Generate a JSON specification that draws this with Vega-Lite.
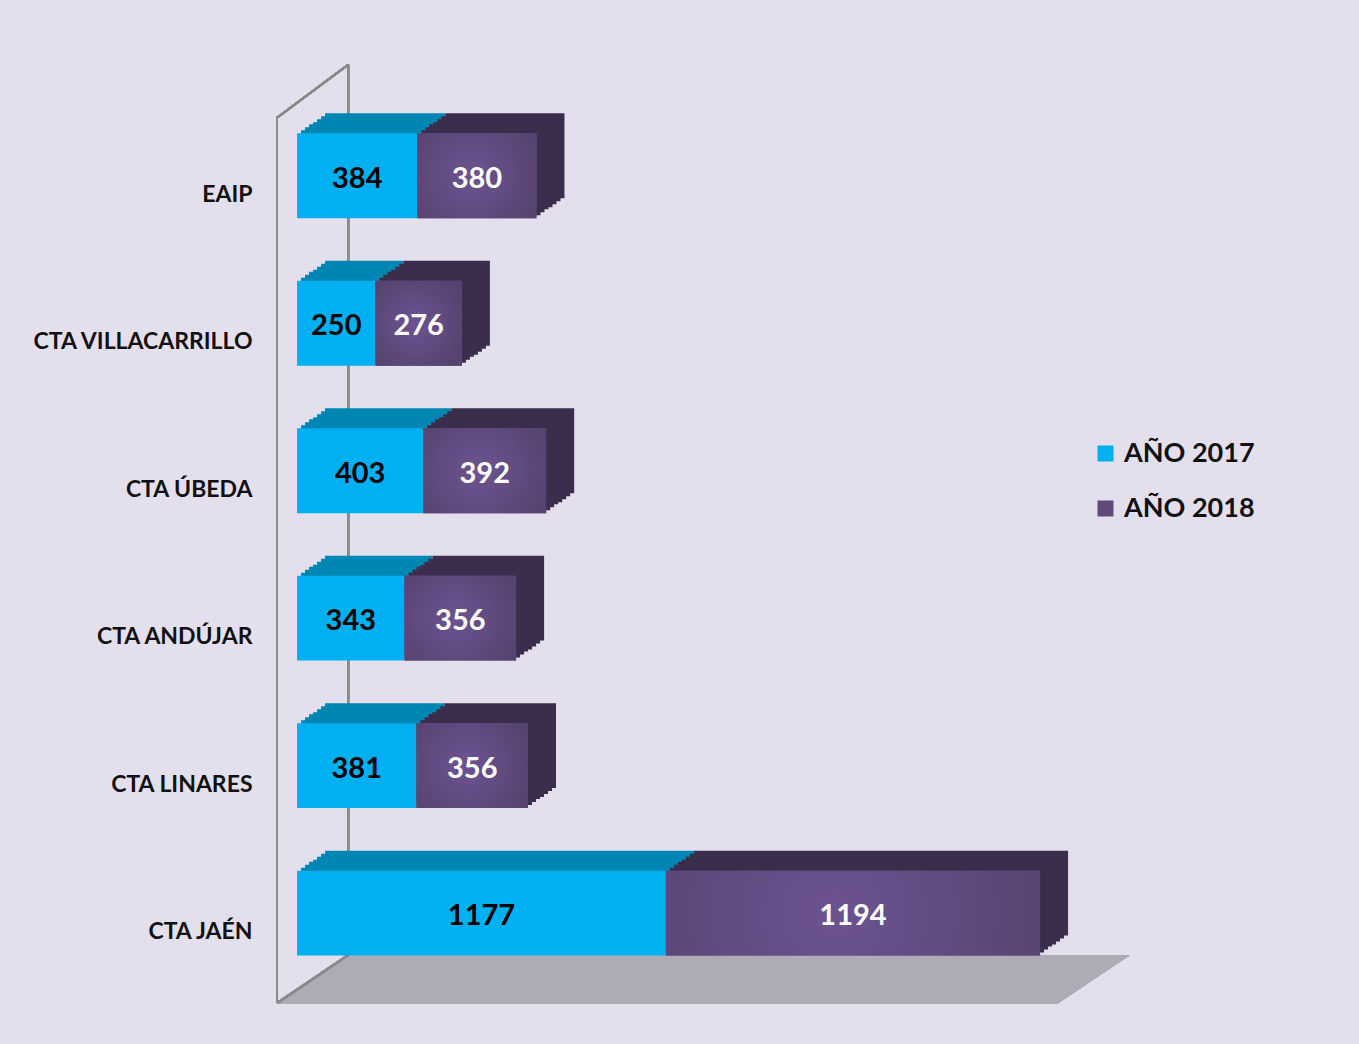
{
  "$schema": "https://vega.github.io/schema/vega-lite/v6.json",
  "autosize": "none",
  "padding": {"left": 277, "top": 65, "right": 229, "bottom": 41},
  "width": 853,
  "height": 938,
  "background": "#E4DFEC",
  "config": {"view": {"stroke": null}, "font": "Lato"},
  "data": {"values": [
    {"cat": "EAIP", "year": "AÑO 2017", "value": 384},
    {"cat": "EAIP", "year": "AÑO 2018", "value": 380},
    {"cat": "CTA VILLACARRILLO", "year": "AÑO 2017", "value": 250},
    {"cat": "CTA VILLACARRILLO", "year": "AÑO 2018", "value": 276},
    {"cat": "CTA ÚBEDA", "year": "AÑO 2017", "value": 403},
    {"cat": "CTA ÚBEDA", "year": "AÑO 2018", "value": 392},
    {"cat": "CTA ANDÚJAR", "year": "AÑO 2017", "value": 343},
    {"cat": "CTA ANDÚJAR", "year": "AÑO 2018", "value": 356},
    {"cat": "CTA LINARES", "year": "AÑO 2017", "value": 381},
    {"cat": "CTA LINARES", "year": "AÑO 2018", "value": 356},
    {"cat": "CTA JAÉN", "year": "AÑO 2017", "value": 1177},
    {"cat": "CTA JAÉN", "year": "AÑO 2018", "value": 1194}
  ]},
  "transform": [
    {"stack": "value", "groupby": ["cat"], "sort": [{"field": "year", "order": "ascending"}], "as": ["x0", "x1"]}
  ],
  "encoding": {
    "y": {
      "field": "cat", "type": "nominal", "title": null,
      "scale": {"domain": ["EAIP", "CTA VILLACARRILLO", "CTA ÚBEDA", "CTA ANDÚJAR", "CTA LINARES", "CTA JAÉN"], "paddingInner": 0.424, "paddingOuter": 0.392, "align": 0.59},
      "axis": {"domain": false, "ticks": false, "labelPadding": 25, "labelOffset": 19, "labelFont": "Lato", "labelFontSize": 23, "labelFontWeight": "bold", "labelColor": "#111111", "labelLimit": 400}
    }
  },
  "layer": [
    {
      "mark": {"type": "rule", "color": "#8A8A8A", "strokeWidth": 2, "yOffset": -111, "y2Offset": 42},
      "encoding": {
        "x": {"datum": 163, "type": "quantitative", "scale": {"domain": [-64, 2658], "nice": false, "zero": false}, "axis": null},
        "y": {"datum": "EAIP", "type": "nominal"},
        "y2": {"datum": "CTA JAÉN"}
      }
    },
    {
      "mark": {"type": "point", "filled": true, "opacity": 1, "color": "#AEABB6", "strokeWidth": 0, "size": 727609, "yOffset": 66,
        "shape": "M -1 0.0563 L 0.8312 0.0563 L 1 -0.0563 L -0.8335 -0.0563 Z"},
      "encoding": {
        "x": {"datum": 1297, "type": "quantitative"},
        "y": {"datum": "CTA JAÉN", "type": "nominal"}
      }
    },
    {
      "mark": {"type": "rule", "color": "#8A8A8A", "strokeWidth": 2, "yOffset": 90, "y2Offset": 42},
      "encoding": {
        "x": {"datum": -64, "type": "quantitative"},
        "x2": {"datum": 163},
        "y": {"datum": "CTA JAÉN", "type": "nominal"},
        "y2": {"datum": "CTA JAÉN"}
      }
    },
    {
      "mark": {"type": "rule", "color": "#8A8A8A", "strokeWidth": 2, "yOffset": -58, "y2Offset": 90},
      "encoding": {
        "x": {"datum": -64, "type": "quantitative"},
        "y": {"datum": "EAIP", "type": "nominal"},
        "y2": {"datum": "CTA JAÉN"}
      }
    },
    {
      "mark": {"type": "rule", "color": "#8A8A8A", "strokeWidth": 2, "yOffset": -58, "y2Offset": -111},
      "encoding": {
        "x": {"datum": -64, "type": "quantitative"},
        "x2": {"datum": 163},
        "y": {"datum": "EAIP", "type": "nominal"},
        "y2": {"datum": "EAIP"}
      }
    },
    {
      "mark": {"type": "bar", "xOffset": 28, "x2Offset": 28, "yOffset": -20, "y2Offset": -20},
      "encoding": {
        "x": {"field": "x0", "type": "quantitative"}, "x2": {"field": "x1"},
        "fill": {"condition": {"test": "datum.year === 'AÑO 2018'", "value": "#3B2D4C"}, "value": "#0086B2"}
      }
    },
    {
      "mark": {"type": "bar", "xOffset": 24, "x2Offset": 24, "yOffset": -17, "y2Offset": -17},
      "encoding": {
        "x": {"field": "x0", "type": "quantitative"}, "x2": {"field": "x1"},
        "fill": {"condition": {"test": "datum.year === 'AÑO 2018'", "value": "#3B2D4C"}, "value": "#0086B2"}
      }
    },
    {
      "mark": {"type": "bar", "xOffset": 20, "x2Offset": 20, "yOffset": -14, "y2Offset": -14},
      "encoding": {
        "x": {"field": "x0", "type": "quantitative"}, "x2": {"field": "x1"},
        "fill": {"condition": {"test": "datum.year === 'AÑO 2018'", "value": "#3B2D4C"}, "value": "#0086B2"}
      }
    },
    {
      "mark": {"type": "bar", "xOffset": 16, "x2Offset": 16, "yOffset": -11, "y2Offset": -11},
      "encoding": {
        "x": {"field": "x0", "type": "quantitative"}, "x2": {"field": "x1"},
        "fill": {"condition": {"test": "datum.year === 'AÑO 2018'", "value": "#3B2D4C"}, "value": "#0086B2"}
      }
    },
    {
      "mark": {"type": "bar", "xOffset": 12, "x2Offset": 12, "yOffset": -9, "y2Offset": -9},
      "encoding": {
        "x": {"field": "x0", "type": "quantitative"}, "x2": {"field": "x1"},
        "fill": {"condition": {"test": "datum.year === 'AÑO 2018'", "value": "#3B2D4C"}, "value": "#0086B2"}
      }
    },
    {
      "mark": {"type": "bar", "xOffset": 8, "x2Offset": 8, "yOffset": -6, "y2Offset": -6},
      "encoding": {
        "x": {"field": "x0", "type": "quantitative"}, "x2": {"field": "x1"},
        "fill": {"condition": {"test": "datum.year === 'AÑO 2018'", "value": "#3B2D4C"}, "value": "#0086B2"}
      }
    },
    {
      "mark": {"type": "bar", "xOffset": 4, "x2Offset": 4, "yOffset": -3, "y2Offset": -3},
      "encoding": {
        "x": {"field": "x0", "type": "quantitative"}, "x2": {"field": "x1"},
        "fill": {"condition": {"test": "datum.year === 'AÑO 2018'", "value": "#3B2D4C"}, "value": "#0086B2"}
      }
    },
    {
      "mark": {"type": "bar"},
      "encoding": {
        "x": {"field": "x0", "type": "quantitative"}, "x2": {"field": "x1"},
        "color": {"field": "year", "type": "nominal", "title": null,
          "scale": {"domain": ["AÑO 2017", "AÑO 2018"], "range": ["#00B0F0", "#604A7B"]},
          "legend": {"orient": "none", "legendX": 815, "legendY": 375, "symbolType": "square", "symbolSize": 256, "symbolStrokeWidth": 0, "labelFont": "Lato", "labelFontSize": 27, "labelFontWeight": "bold", "labelColor": "#111111", "labelOffset": 5, "rowPadding": 27, "labelLimit": 300}
        }
      }
    },
    {
      "mark": {"type": "bar"},
      "encoding": {
        "x": {"field": "x0", "type": "quantitative"}, "x2": {"field": "x1"},
        "fill": {"condition": {"test": "datum.year === 'AÑO 2018'", "value": {"gradient": "radial", "x1": 0.45, "y1": 0.5, "r1": 0, "x2": 0.45, "y2": 0.5, "r2": 0.6, "stops": [{"offset": 0, "color": "#6C5391"}, {"offset": 1, "color": "#574370"}]}}, "value": "rgba(0,0,0,0)"}
      }
    },
    {
      "transform": [
        {"fold": ["x0", "x1"], "as": ["edge", "pos"]},
        {"aggregate": [{"op": "mean", "field": "pos", "as": "mid"}], "groupby": ["cat", "year", "value"]}
      ],
      "mark": {"type": "text", "font": "Lato", "fontSize": 29, "fontWeight": "bold", "baseline": "middle", "align": "center", "dy": 3},
      "encoding": {
        "x": {"field": "mid", "type": "quantitative"},
        "text": {"field": "value", "type": "quantitative"},
        "color": {"condition": {"test": "datum.year === 'AÑO 2018'", "value": "#FFFFFF"}, "value": "#000000"}
      }
    }
  ]
}
